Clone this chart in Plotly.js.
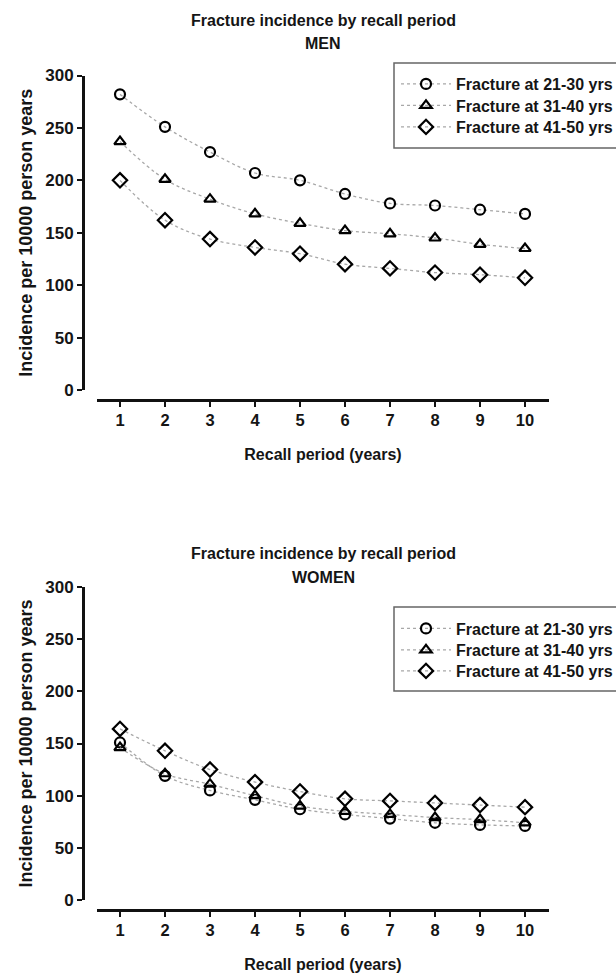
<!DOCTYPE html>
<html>
<head>
<meta charset="utf-8">
<script src="https://cdn.plot.ly/plotly-3.0.1.min.js"></script>
<style>html,body{margin:0;padding:0;background:#fff;}#chart{width:616px;height:973px;}</style>
</head>
<body>
<div id="chart"></div>
<script>
// ---- data ----
const recallYears = [1, 2, 3, 4, 5, 6, 7, 8, 9, 10];
const seriesNames = ["Fracture at 21-30 yrs", "Fracture at 31-40 yrs", "Fracture at 41-50 yrs"];
const menAge21to30 = [282, 251, 227, 207, 200, 187, 178, 176, 172, 168];
const menAge31to40 = [237, 201, 182, 168, 159, 152, 149, 145, 139, 135];
const menAge41to50 = [200, 162, 144, 136, 130, 120, 116, 112, 110, 107];
const womenAge21to30 = [151, 119, 105, 96, 87, 82, 78, 74, 72, 71];
const womenAge31to40 = [146, 121, 111, 100, 90, 85, 82, 79, 77, 74];
const womenAge41to50 = [164, 143, 125, 113, 104, 97, 95, 93, 91, 89];
const yTickVals = [0, 50, 100, 150, 200, 250, 300];
const panelTitles = ["MEN", "WOMEN"];
const mainTitle = "Fracture incidence by recall period";
const xTitle = "Recall period (years)";
const yTitle = "Incidence per 10000 person years";

// ---- layout helpers (pixel -> paper) ----
const W = 616, H = 973;
const px = v => v / W;
const py = v => 1 - v / H;
const FONT = "Liberation Sans, Arial, Helvetica, sans-serif";
const TXT = "#151515";
const symbols = ["circle-open", "triangle-up-open", "diamond-open"];
const symSizes = [10, 10, 11];
// one legend per entry so rows can sit exactly where the reference has them
const legendIds = [["legend", "legend2", "legend3"], ["legend4", "legend5", "legend6"]];
const legendRows = [[84, 105.5, 127], [628.5, 650, 671]];

function makeTraces(values, xa, ya, panel) {
  return values.map((vals, i) => ({
    type: "scatter", mode: "lines+markers",
    x: recallYears, y: vals, name: seriesNames[i],
    xaxis: xa, yaxis: ya, legend: legendIds[panel][i],
    line: {shape: "spline", smoothing: 1, dash: "dot", color: "#a8a8a8", width: 1.3},
    marker: {symbol: symbols[i], size: symSizes[i], color: "#000", line: {color: "#111", width: 2.2}}
  }));
}

const traces = [].concat(
  makeTraces([menAge21to30, menAge31to40, menAge41to50], "x", "y", 0),
  makeTraces([womenAge21to30, womenAge31to40, womenAge41to50], "x2", "y2", 1)
);

function xAxis(pos) {
  return {
    domain: [px(97), px(549)], range: [0.489, 10.533], anchor: "free", position: pos,
    tickmode: "array", tickvals: recallYears, ticks: "outside", ticklen: 5, tickwidth: 2, tickcolor: "#111",
    showline: true, linewidth: 2.5, linecolor: "#111", showgrid: false, zeroline: false,
    tickfont: {family: FONT, size: 16.5, color: TXT, weight: "bold"},
    title: {text: xTitle, standoff: 20, font: {family: FONT, size: 16, color: TXT, weight: "bold"}}
  };
}
function yAxis(dom) {
  return {
    domain: dom, range: [0, 300], anchor: "free", position: px(83),
    tickmode: "array", tickvals: yTickVals, ticks: "outside", ticklen: 5, tickwidth: 2, tickcolor: "#111",
    showline: true, linewidth: 2.5, linecolor: "#111", showgrid: false, zeroline: false,
    tickfont: {family: FONT, size: 17, color: TXT, weight: "bold"},
    title: {text: yTitle, standoff: 7, font: {family: FONT, size: 18, color: TXT, weight: "bold"}}
  };
}
function legendAt(rowPx) {
  return {
    x: px(396), xanchor: "left", y: py(rowPx), yanchor: "middle",
    bgcolor: "rgba(0,0,0,0)", borderwidth: 0, itemwidth: 50,
    font: {family: FONT, size: 16, color: TXT, weight: "bold"}
  };
}
function titleAnn(text, yPx) {
  return {text: text, xref: "paper", yref: "paper", x: px(323), y: py(yPx), xanchor: "center", yanchor: "middle",
          showarrow: false, font: {family: FONT, size: 16, color: TXT, weight: "bold"}};
}
function boxShape(top, bottom) {
  return {type: "rect", xref: "paper", yref: "paper", x0: px(394), x1: 1.05, y0: py(bottom), y1: py(top),
          line: {color: "#666", width: 1.5}, fillcolor: "rgba(0,0,0,0)"};
}

const layout = {
  width: W, height: H,
  margin: {l: 0, r: 0, t: 0, b: 0, autoexpand: false},
  paper_bgcolor: "#fff", plot_bgcolor: "#fff",
  font: {family: FONT, color: TXT},
  showlegend: true,
  xaxis: xAxis(py(400)),
  yaxis: yAxis([py(390), py(75.5)]),
  xaxis2: xAxis(py(910)),
  yaxis2: yAxis([py(900), py(587)]),
  shapes: [boxShape(63, 148), boxShape(607, 691)],
  annotations: [
    titleAnn(mainTitle, 20), titleAnn(panelTitles[0], 43),
    titleAnn(mainTitle, 553), titleAnn(panelTitles[1], 577)
  ]
};
legendIds.forEach((ids, p) => ids.forEach((id, i) => { layout[id] = legendAt(legendRows[p][i]); }));

Plotly.newPlot("chart", traces, layout, {displayModeBar: false, staticPlot: true});
</script>
</body>
</html>
